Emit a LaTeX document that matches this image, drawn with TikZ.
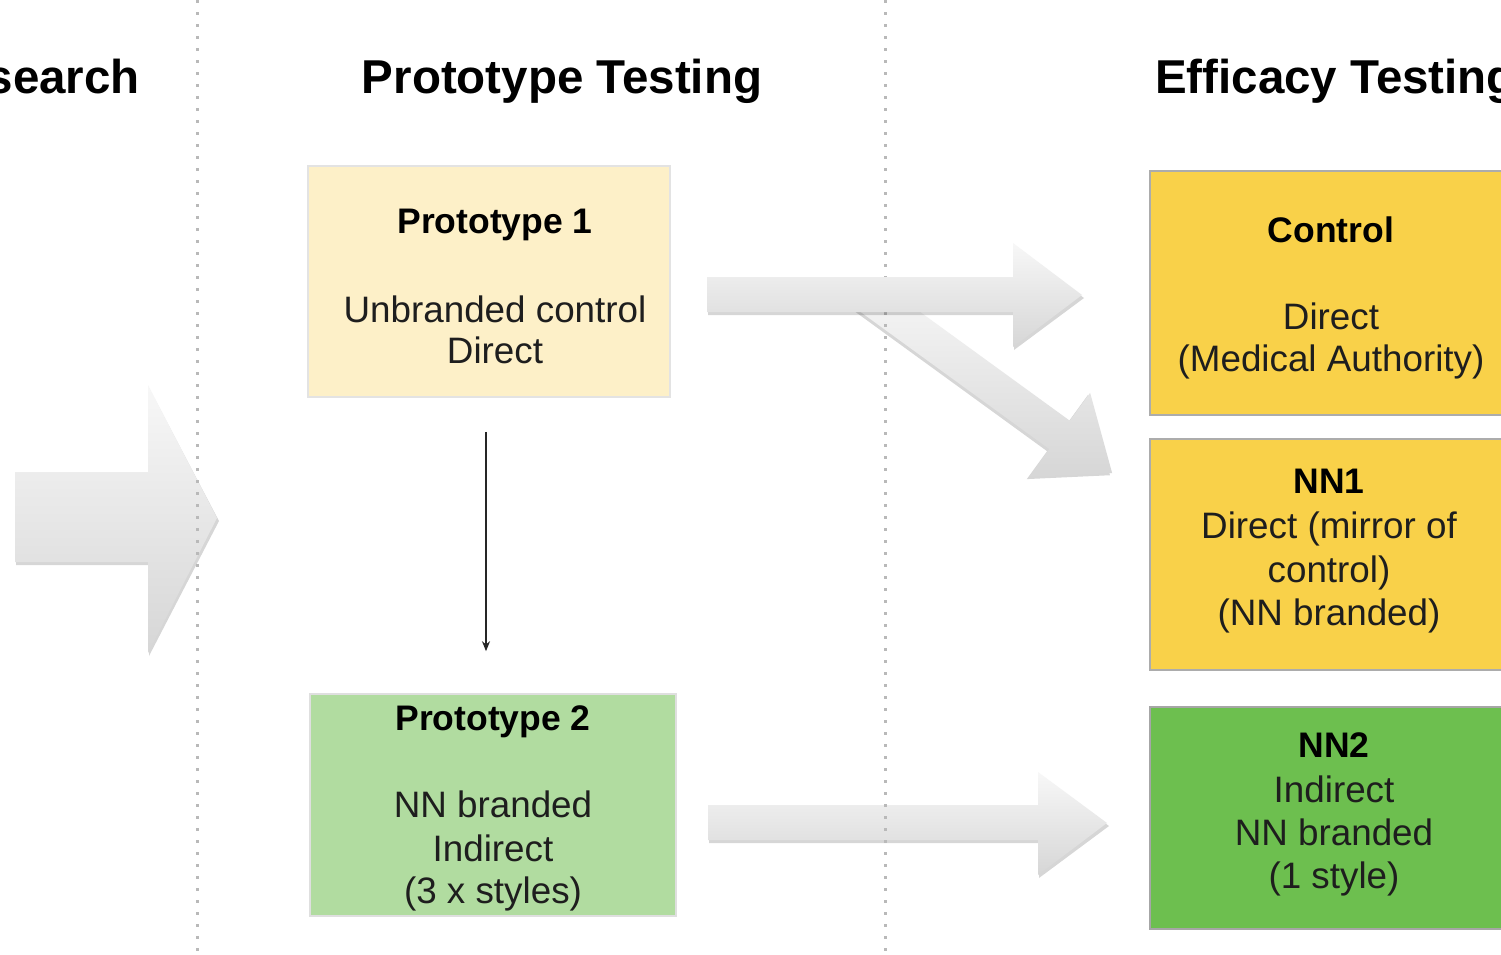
\documentclass[tikz,border=0pt]{standalone}
\usepackage{fontspec}
\setmainfont{Liberation Sans}
\usetikzlibrary{arrows.meta}
\definecolor{pOneFill}{HTML}{FDF0C8}
\definecolor{pTwoFill}{HTML}{B1DCA0}
\definecolor{ctrlFill}{HTML}{F9D149}
\definecolor{nnTwoFill}{HTML}{6DBF4F}
\definecolor{txt}{HTML}{1E1E1E}
\tikzset{
  box/.style={draw=#1, line width=1.6pt, inner sep=0pt},
  heading/.style={anchor=base, font=\fontsize{47.5}{54}\selectfont\bfseries, text=black, inner sep=0pt},
  tb/.style={anchor=base, font=\fontsize{35.5}{42}\selectfont\bfseries, text=black, inner sep=0pt},
  tr/.style={anchor=base, font=\fontsize{36.8}{43}\selectfont, text=txt, inner sep=0pt},
  blockarrow/.style={top color=gray!6, bottom color=gray!32, draw=none},
  arrowshadow/.style={fill=black, opacity=0.16, draw=none},
  sep/.style={draw=gray!55, line width=3pt, dash pattern=on 2.6pt off 9.4pt},
  link/.style={-{Stealth[length=10pt,width=8pt]}, line width=1.4pt, draw=black!85}
}
\begin{document}
\begin{tikzpicture}[x=1pt,y=-1pt]
\useasboundingbox (0,0) rectangle (1501,954);
\clip (0,0) rectangle (1501,954);
\fill[white] (0,0) rectangle (1501,954);

% headings
\node[heading, anchor=base east] (h1) at (140,93) {search};
\node[heading] (h2) at (562,93) {Prototype Testing};
\node[heading, anchor=base west] (h3) at (1155,93) {Efficacy Testing};

% left block arrow
\path[arrowshadow] (16,475) -- (149,475) -- (149,388) -- (219,521) -- (149,656) -- (149,565) -- (16,565) -- cycle;
\path[blockarrow] (15,472) -- (148,472) -- (148,385) -- (217,518) -- (148,653) -- (148,562) -- (15,562) -- cycle;

% bottom block arrow
\path[arrowshadow] (709,808) -- (1039,808) -- (1039,775) -- (1109,826) -- (1039,878) -- (1039,843) -- (709,843) -- cycle;
\path[blockarrow] (708,805) -- (1038,805) -- (1038,772) -- (1107,823) -- (1038,875) -- (1038,840) -- (708,840) -- cycle;

% diagonal block arrow
\begin{scope}[shift={(867,295)}, rotate=-36]
  \path[arrowshadow, shift={(-0.5,3)}] (0,-17.5) -- (238,-17.5) -- (238,-52) -- (303,0) -- (238,52) -- (238,17.5) -- (0,17.5) -- cycle;
  \path[blockarrow] (0,-17.5) -- (238,-17.5) -- (238,-52) -- (303,0) -- (238,52) -- (238,17.5) -- (0,17.5) -- cycle;
\end{scope}

% dotted separators
\draw[sep] (197,0) -- (197,954);
\draw[sep] (885,0) -- (885,954);

% top block arrow
\path[arrowshadow] (708,280) -- (1014,280) -- (1014,246) -- (1084,298) -- (1014,350) -- (1014,315) -- (708,315) -- cycle;
\path[blockarrow] (707,277) -- (1013,277) -- (1013,243) -- (1082,295) -- (1013,347) -- (1013,312) -- (707,312) -- cycle;

% boxes
\node[box=gray!22, fill=pOneFill, minimum width=362pt, minimum height=231pt] (p1) at (489,281.5) {};
\node[box=gray!25, fill=pTwoFill, minimum width=366pt, minimum height=222pt] (p2) at (493,805) {};
\node[box=gray!65, fill=ctrlFill, minimum width=370pt, minimum height=244pt] (ctrl) at (1335,293) {};
\node[box=gray!65, fill=ctrlFill, minimum width=370pt, minimum height=231pt] (nn1) at (1335,554.5) {};
\node[box=gray!70, fill=nnTwoFill, minimum width=380pt, minimum height=222pt] (nn2) at (1340,818) {};

% texts
\node[tb] (p1a) at (495,233) {Prototype 1};
\node[tr] (p1b) at (495,322) {Unbranded control};
\node[tr] (p1c) at (495,363) {Direct};

\node[tb] (p2a) at (493,730) {Prototype 2};
\node[tr] (p2b) at (493,817) {NN branded};
\node[tr] (p2c) at (493,861) {Indirect};
\node[tr] (p2d) at (493,903) {(3 x styles)};

\node[tb] (ca) at (1331,242) {Control};
\node[tr] (cb) at (1331,329) {Direct};
\node[tr] (cc) at (1331,371) {(Medical Authority)};

\node[tb] (na) at (1329,493) {NN1};
\node[tr] (nb) at (1329,538) {Direct (mirror of};
\node[tr] (nc) at (1329,582) {control)};
\node[tr] (nd) at (1329,625) {(NN branded)};

\node[tb] (ma) at (1334,757) {NN2};
\node[tr] (mb) at (1334,802) {Indirect};
\node[tr] (mc) at (1334,845) {NN branded};
\node[tr] (md) at (1334,888) {(1 style)};

% thin connector
\coordinate (xline) at (486,0);
\draw[link, shorten <=34pt, shorten >=42pt] (p1.south -| xline) -- (p2.north -| xline);
\end{tikzpicture}
\end{document}
